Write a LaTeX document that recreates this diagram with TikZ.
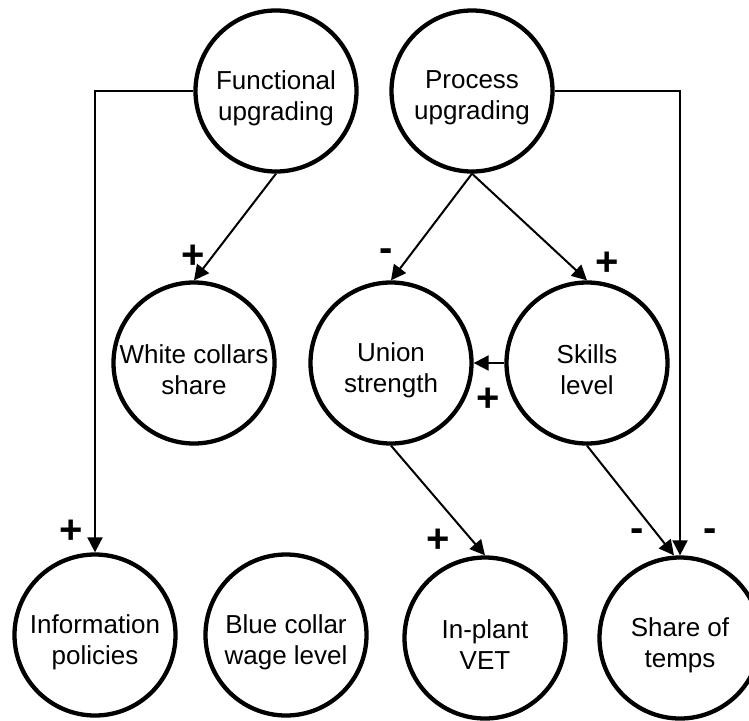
\documentclass[tikz,border=0pt]{standalone}
\usepackage{fontspec}
\setmainfont{Liberation Sans}
\usetikzlibrary{arrows.meta}
\begin{document}
\begin{tikzpicture}[x=1pt,y=-1pt,
  factor/.style={circle,draw=black,line width=4.3pt,minimum size=161pt,inner sep=0pt},
  caption/.style={align=center,inner sep=0pt,font=\fontsize{26}{31}\selectfont},
  link/.style={line width=2pt,-{Triangle[length=15pt,width=15pt]}},
  sign/.style={font=\fontsize{40}{40}\selectfont\bfseries,inner sep=0pt}]
\useasboundingbox (0,0) rectangle (749,720);
\node[factor] (func) at (276,91) {};
\node[factor] (proc) at (472,91) {};
\node[factor] (white) at (194,363) {};
\node[factor] (union) at (391,363) {};
\node[factor] (skill) at (587,363) {};
\node[factor] (info) at (95,635) {};
\node[factor] (blue) at (286,635) {};
\node[factor] (vet) at (485,638) {};
\node[factor] (temps) at (680,638) {};

\node[caption] (funct) at ([yshift=-7pt]func.center) {Functional\\upgrading};
\node[caption] (proct) at ([yshift=-7pt]proc.center) {Process\\upgrading};
\node[caption] (whitet) at ([yshift=-7pt]white.center) {White collars\\share};
\node[caption] (uniont) at ([yshift=-7pt]union.center) {Union\\strength};
\node[caption] (skillt) at ([yshift=-7pt]skill.center) {Skills\\level};
\node[caption] (infot) at ([yshift=-7pt]info.center) {Information\\policies};
\node[caption] (bluet) at ([yshift=-7pt]blue.center) {Blue collar\\wage level};
\node[caption] (vett) at ([yshift=-7pt]vet.center) {In-plant\\VET};
\node[caption] (tempst) at ([yshift=-7pt]temps.center) {Share of\\temps};

\draw[link] (func.west) -| (info.north);
\draw[link] (func.south) -- (white.north);
\draw[link] (proc.south) -- (union.north);
\draw[link] (proc.south) -- (skill.north);
\draw[link] (proc.east) -| (temps.north);
\draw[link] (skill.west) -- (union.east);
\draw[link] (union.south) -- (vet.north);
\draw[link] (skill.south) -- ([xshift=-6pt]temps.north);

\node[sign] (s1) at (193,257) {+};
\node[sign] (s2) at (386,255) {-};
\node[sign] (s3) at (607,264) {+};
\node[sign] (s4) at (488,400) {+};
\node[sign] (s5) at (71,532) {+};
\node[sign] (s6) at (438,541) {+};
\node[sign] (s7) at (637,535) {-};
\node[sign] (s8) at (710,535) {-};
\end{tikzpicture}
\end{document}
